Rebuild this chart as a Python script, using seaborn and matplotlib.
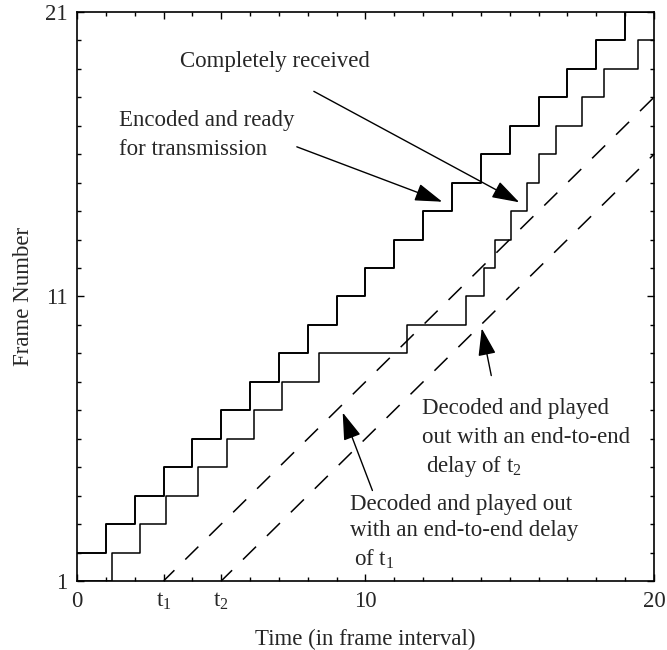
import numpy as np
import pandas as pd
import matplotlib
matplotlib.use("Agg")
import matplotlib.pyplot as plt
import seaborn as sns

# Frame k+2 is encoded and ready at the start of interval k
encoded_times = [0, 1, 2, 3, 4, 5, 6, 7, 8, 9, 10, 11, 12, 13, 14, 15, 16, 17, 18, 19, 20]
encoded_frames = [2, 3, 4, 5, 6, 7, 8, 9, 10, 11, 12, 13, 14, 15, 16, 17, 18, 19, 20, 21, 21]

# Time at which each frame has been completely received
received_times = [0, 1.2, 2.2, 3.1, 4.2, 5.2, 6.15, 7.1, 8.4, 11.45, 13.5, 14.1,
                  14.5, 15.05, 15.6, 16.0, 16.6, 17.5, 18.25, 19.45, 20]
received_frames = [1, 2, 3, 4, 5, 6, 7, 8, 9, 10, 11, 12, 13, 14, 15, 16, 17,
                   18, 19, 20, 20]

# Playout at one frame per interval after an end-to-end delay
t1 = 3
t2 = 5
playout_t1_times = [t1, 20]
playout_t1_frames = [1, 1 + 20 - t1]
playout_t2_times = [t2, 20]
playout_t2_frames = [1, 1 + 20 - t2]

x_tick_pos = [0, t1, t2, 10, 20]
x_tick_labels = ["0", "t$_1$", "t$_2$", "10", "20"]
y_tick_pos = [1, 11, 21]
y_tick_labels = ["1", "11", "21"]

sns.set_theme(style="ticks")
plt.rcParams["font.family"] = ["Liberation Serif", "DejaVu Serif"]
plt.rcParams["mathtext.fontset"] = "custom"
plt.rcParams["mathtext.rm"] = "Liberation Serif"
plt.rcParams["mathtext.it"] = "Liberation Serif"
plt.rcParams["mathtext.default"] = "rm"

FS = 16.5
fig = plt.figure(figsize=(6.67, 6.5), dpi=100)
ax = fig.add_axes([0.1154, 0.1062, 0.8651, 0.8754])

enc = pd.DataFrame({"t": encoded_times, "f": encoded_frames})
rec = pd.DataFrame({"t": received_times, "f": received_frames})
sns.lineplot(data=enc, x="t", y="f", drawstyle="steps-post", estimator=None,
             color="black", linewidth=1.4, ax=ax)
sns.lineplot(data=rec, x="t", y="f", drawstyle="steps-post", estimator=None,
             color="black", linewidth=1.1, ax=ax)

for tt, ff in [(playout_t1_times, playout_t1_frames), (playout_t2_times, playout_t2_frames)]:
    sns.lineplot(x=tt, y=ff, color="black", linewidth=1.1, ax=ax)
    ax.lines[-1].set_linestyle((2, (12, 10)))

ax.set_xlim(0, 20)
ax.set_ylim(1, 21)
ax.set_xticks(x_tick_pos)
ax.set_xticklabels(x_tick_labels, fontsize=FS)
ax.set_yticks(y_tick_pos)
ax.set_yticklabels(y_tick_labels, fontsize=FS)
ax.xaxis.set_minor_locator(matplotlib.ticker.MultipleLocator(1))
ax.yaxis.set_minor_locator(matplotlib.ticker.MultipleLocator(1))
ax.tick_params(which="both", direction="in", top=True, right=True, color="black")
ax.tick_params(which="major", length=5, width=1.0, pad=7)
ax.tick_params(which="minor", length=3, width=1.0)
ax.tick_params(axis="y", which="major", pad=7)
for s in ax.spines.values():
    s.set_linewidth(1.2)
    s.set_color("black")

ax.set_xlabel("Time (in frame interval)", fontsize=FS, labelpad=12)
ax.set_ylabel("Frame Number", fontsize=FS, labelpad=8)

arrow = dict(arrowstyle="-|>,head_length=1.7,head_width=0.55", color="black",
             linewidth=1.0, mutation_scale=10, shrinkA=0, shrinkB=0)

ax.text(3.57, 19.27, "Completely received", fontsize=FS, va="center", ha="left")
ax.text(1.47, 17.17, "Encoded and ready", fontsize=FS, va="center", ha="left")
ax.text(1.47, 16.16, "for transmission", fontsize=FS, va="center", ha="left")
ax.annotate("", xy=(12.66, 14.33), xytext=(7.62, 16.26), arrowprops=arrow)
ax.annotate("", xy=(15.33, 14.31), xytext=(8.21, 18.21), arrowprops=arrow)

ax.text(11.97, 7.06, "Decoded and played", fontsize=FS, va="center", ha="left")
ax.text(11.97, 6.05, "out with an end-to-end", fontsize=FS, va="center", ha="left")
ax.text(12.1, 5.04, "delay of t$_2$", fontsize=FS, va="center", ha="left")
ax.annotate("", xy=(14.03, 9.88), xytext=(14.36, 8.22), arrowprops=arrow)

ax.text(9.46, 3.70, "Decoded and played out", fontsize=FS, va="center", ha="left")
ax.text(9.46, 2.76, "with an end-to-end delay", fontsize=FS, va="center", ha="left")
ax.text(9.6, 1.77, "of t$_1$", fontsize=FS, va="center", ha="left")
ax.annotate("", xy=(9.21, 6.92), xytext=(10.24, 4.18), arrowprops=arrow)

fig.savefig("out.png", dpi=100, facecolor="white")
